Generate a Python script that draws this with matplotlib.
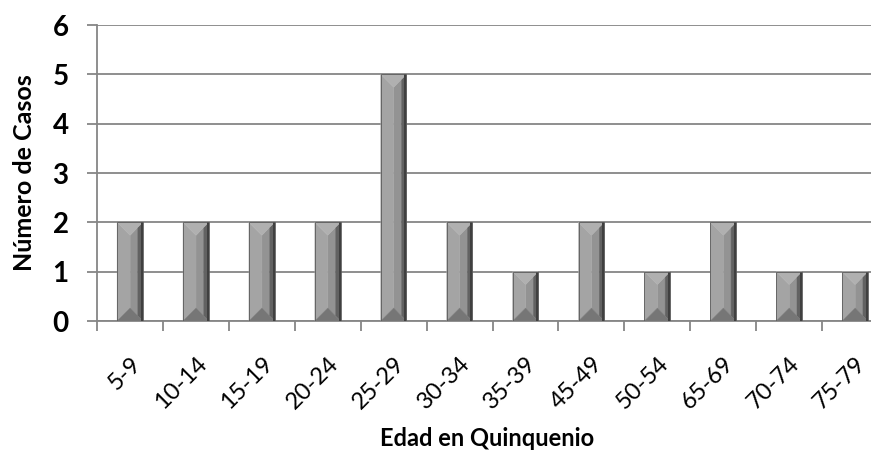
import numpy as np
import matplotlib
matplotlib.use("Agg")
import matplotlib.pyplot as plt
from matplotlib.patches import Polygon

plt.rcParams["font.family"] = ["Lato", "DejaVu Sans"]

# ============================================================
# data
# ============================================================

categories = ["5-9", "10-14", "15-19", "20-24", "25-29", "30-34",
              "35-39", "45-49", "50-54", "65-69", "70-74", "75-79"]
casos = [2, 2, 2, 2, 5, 2, 1, 2, 1, 2, 1, 1]
y_ticks = [0, 1, 2, 3, 4, 5, 6]

x_label = "Edad en Quinquenio"
y_label = "Número de Casos"

GRID = "#868686"


def bevel_bar(ax, xc, h, width, left_px=13, right_px=5):
    """Excel-2007 style bevelled bar, drawn as polygons in pixel space."""
    to_disp = ax.transData
    to_data = ax.transData.inverted()
    (X0, Y0) = to_disp.transform((xc - width / 2, 0))
    (X1, Y1) = to_disp.transform((xc + width / 2, h))
    L, R = left_px, right_px
    xl, xr = X0 + L, X1 - R

    faces = [
        # center face
        ([(xl, Y0 + L), (xr, Y0 + R), (xr, Y1 - R), (xl, Y1 - L)], "#939393"),
        # left face
        ([(X0, Y0), (xl, Y0 + L), (xl, Y1 - L), (X0, Y1)], "#a4a4a4"),
        # right face
        ([(xr, Y0 + R), (X1, Y0), (X1, Y1), (xr, Y1 - R)], "#626262"),
        # top face
        ([(X0, Y1), (X1, Y1), (xr, Y1 - R), (xl, Y1 - L)], "#b0b0b0"),
        # bottom face
        ([(X0, Y0), (X1, Y0), (xr, Y0 + R), (xl, Y0 + L)], "#767676"),
    ]
    for pts, col in faces:
        data_pts = to_data.transform(np.array(pts))
        ax.add_patch(Polygon(data_pts, closed=True, facecolor=col,
                             edgecolor=col, linewidth=0.3, zorder=3))

    # dark strip on the right edge
    strip = to_data.transform(np.array([(X1 - 2, Y0), (X1, Y0), (X1, Y1), (X1 - 2, Y1)]))
    ax.add_patch(Polygon(strip, closed=True, facecolor="#404040",
                         edgecolor="none", zorder=3))
    outline = to_data.transform(np.array([(X0, Y0), (X0, Y1), (X1, Y1), (X1, Y0)]))
    ax.add_patch(Polygon(outline, closed=True, facecolor="none",
                         edgecolor="#5a5a5a", linewidth=0.6, zorder=4))


def main():
    fig = plt.figure(figsize=(8.71, 4.5), dpi=100)
    # plot area runs past the right edge of the image, as in the original
    ax = fig.add_axes([97 / 871, 1 - 321 / 450, (888 - 97) / 871, (321 - 25) / 450])

    n = len(categories)
    x = np.arange(n)
    ax.set_xlim(-0.5, n - 0.5)
    ax.set_ylim(0, 6)

    ax.set_axisbelow(True)
    ax.yaxis.grid(True, color=GRID, linewidth=1.3)
    for side in ["top", "right"]:
        ax.spines[side].set_visible(False)
    for side in ["left", "bottom"]:
        ax.spines[side].set_color(GRID)
        ax.spines[side].set_linewidth(1.3)

    ax.set_yticks(y_ticks)
    ax.set_yticklabels([str(t) for t in y_ticks], fontsize=20, fontweight="bold")
    ax.tick_params(axis="y", direction="out", length=7.5, width=1.3,
                   color=GRID, pad=13)

    ax.set_xticks(x)
    ax.set_xticklabels(categories, rotation=45, ha="right",
                       rotation_mode="anchor", fontsize=17)
    ax.tick_params(axis="x", which="major", length=0, pad=23)
    ax.set_xticks(np.arange(n + 1) - 0.5, minor=True)
    ax.tick_params(axis="x", which="minor", direction="out", length=7,
                   width=1.3, color=GRID)

    for xc, v in zip(x, casos):
        bevel_bar(ax, xc, v, 0.39)

    fig.text(24 / 871, 1 - 173 / 450, y_label, rotation=90, ha="center",
             va="center", fontsize=18, fontweight="bold")
    fig.text(487 / 871, 1 - 438 / 450, x_label, ha="center", va="center",
             fontsize=17, fontweight="bold")

    fig.savefig("out.png", dpi=100)
    plt.close(fig)


if __name__ == "__main__":
    main()
